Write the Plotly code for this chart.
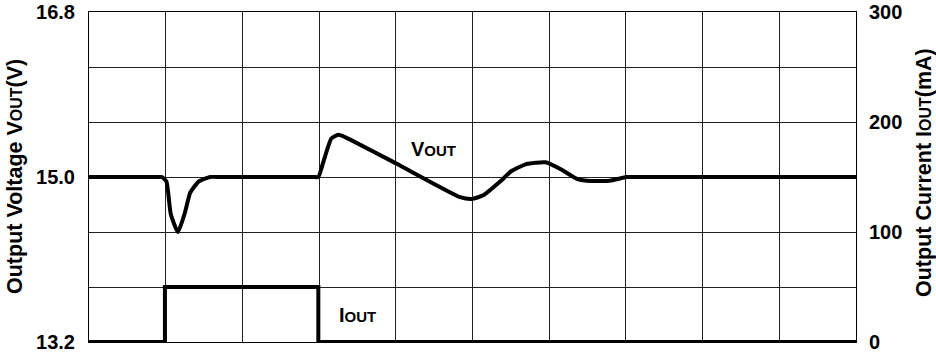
import plotly.graph_objects as go

# Time axis in divisions (10 divisions across the screen)
vout_t = [0, 0.5, 0.9, 0.95, 1.01, 1.065, 1.16, 1.25, 1.32, 1.43, 1.58, 1.7, 2.5, 2.93, 2.99,
          3.05, 3.16, 3.25, 3.35, 4.0, 4.84, 4.99, 5.14, 5.36, 5.5, 5.7, 5.95, 6.14, 6.36,
          6.49, 6.79, 7.01, 7.15, 8.5, 10]
vout_v = [15.0, 15.0, 15.0, 15.0, 14.95, 14.60, 14.40, 14.61, 14.83, 14.95, 15.0, 15.0, 15.0, 15.0, 15.0,
          15.15, 15.42, 15.46, 15.43, 15.15, 14.78, 14.76, 14.80, 14.95, 15.06, 15.14, 15.16, 15.09, 14.98,
          14.96, 14.96, 15.0, 15.0, 15.0, 15.0]

iout_t = [0, 0.99, 0.99, 2.99, 2.99, 10]
iout_ma = [0, 0, 50, 50, 0, 0]

v_grid = [13.2, 13.8, 14.4, 15.0, 15.6, 16.2, 16.8]
v_labels = ["13.2", "", "", "15.0", "", "", "16.8"]
i_ticks = [0, 100, 200, 300]

FONT = dict(family="Liberation Sans, Arial, sans-serif", size=20, color="black", weight="bold")
SMALL = "<span style='font-size:15px'>OUT</span>"
SMALL_T = "<span style='font-size:16px'>OUT</span>"

fig = go.Figure()
fig.add_trace(go.Scatter(x=vout_t, y=vout_v, mode="lines", yaxis="y",
                         line=dict(color="black", width=4, shape="spline", smoothing=0.5),
                         showlegend=False, hoverinfo="skip"))
fig.add_trace(go.Scatter(x=iout_t, y=iout_ma, mode="lines", yaxis="y2",
                         line=dict(color="black", width=4),
                         showlegend=False, hoverinfo="skip"))

fig.update_layout(
    width=936, height=360,
    margin=dict(l=89, r=80, t=12, b=18, autoexpand=False),
    paper_bgcolor="white", plot_bgcolor="white",
    font=FONT,
    xaxis=dict(range=[0, 10], dtick=1, showticklabels=False, ticks="", automargin=False,
               showgrid=True, gridcolor="#222", gridwidth=1, zeroline=False,
               showline=True, mirror=True, linecolor="black", linewidth=1),
    yaxis=dict(range=[13.2, 16.8], tickvals=v_grid, ticktext=v_labels, ticks="", automargin=False,
               showgrid=True, gridcolor="#222", gridwidth=1, zeroline=False,
               showline=True, mirror=True, linecolor="black", linewidth=1,
               ticklabelstandoff=9),
    yaxis2=dict(range=[0, 300], tickvals=i_ticks, overlaying="y", side="right", automargin=False,
                ticks="", showgrid=False, zeroline=False, ticklabelstandoff=12),
    annotations=[
        dict(text="Output Voltage V" + SMALL_T + "(V)", xref="paper", yref="paper",
             x=0, y=0.5, xshift=-74, textangle=-90, showarrow=False,
             font=dict(size=21.5), xanchor="center", yanchor="middle"),
        dict(text="Output Current I" + SMALL_T + "(mA)", xref="paper", yref="paper",
             x=1, y=0.5, xshift=68, yshift=4, textangle=-90, showarrow=False,
             font=dict(size=21.5), xanchor="center", yanchor="middle"),
        dict(text="V" + SMALL, x=4.17, y=15.31, xref="x", yref="y", showarrow=False,
             xanchor="left", yanchor="middle"),
        dict(text="I" + SMALL, x=3.23, y=25, xref="x", yref="y2", showarrow=False,
             xanchor="left", yanchor="middle"),
    ],
)

fig.write_html("out.html")
